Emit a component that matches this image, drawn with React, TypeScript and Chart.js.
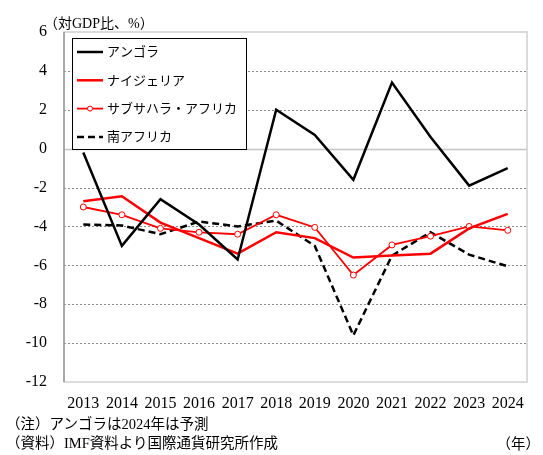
import React, { useEffect, useRef } from "react";
import { Chart, registerables } from "chart.js";

Chart.register(...registerables);

const years = ["2013", "2014", "2015", "2016", "2017", "2018", "2019", "2020", "2021", "2022", "2023", "2024"];
const angola = [-0.2, -5.0, -2.6, -3.9, -5.7, 2.0, 0.7, -1.6, 3.4, 0.6, -1.9, -1.0];
const nigeria = [-2.7, -2.45, -3.8, -4.6, -5.4, -4.3, -4.6, -5.6, -5.5, -5.4, -4.1, -3.35];
const subSahara = [-3.0, -3.4, -4.1, -4.3, -4.4, -3.4, -4.05, -6.5, -4.95, -4.5, -4.0, -4.2];
const southAfrica = [-3.9, -3.95, -4.4, -3.75, -4.0, -3.7, -5.0, -9.6, -5.5, -4.3, -5.45, -6.05];
const seriesNames = ["アンゴラ", "ナイジェリア", "サブサハラ・アフリカ", "南アフリカ"];
const yMin = -12;
const yMax = 6;
const yStep = 2;

const FONT = '"Liberation Serif", "Noto Sans CJK JP", serif';

const gridPlugin = {
  id: "customGrid",
  beforeDatasetsDraw(chart: any) {
    const { ctx, chartArea } = chart;
    const y = chart.scales.y;
    ctx.save();
    for (let v = yMin + yStep; v < yMax; v += yStep) {
      const py = Math.round(y.getPixelForValue(v)) + 0.5;
      ctx.beginPath();
      if (v === 0) {
        ctx.setLineDash([]);
        ctx.strokeStyle = "#c4c4c4";
        ctx.lineWidth = 1.5;
      } else {
        ctx.setLineDash([2, 2]);
        ctx.strokeStyle = "#8a8a8a";
        ctx.lineWidth = 1;
      }
      ctx.moveTo(chartArea.left, py);
      ctx.lineTo(chartArea.right, py);
      ctx.stroke();
    }
    ctx.setLineDash([]);
    ctx.strokeStyle = "#d0d0d0";
    ctx.lineWidth = 1.5;
    ctx.strokeRect(chartArea.left, chartArea.top, chartArea.right - chartArea.left, chartArea.bottom - chartArea.top);
    ctx.strokeStyle = "#999999";
    ctx.beginPath();
    ctx.moveTo(chartArea.left, chartArea.top);
    ctx.lineTo(chartArea.left, chartArea.bottom);
    ctx.stroke();
    ctx.restore();
  },
};

const legendPlugin = {
  id: "boxLegend",
  afterDraw(chart: any) {
    const { ctx, chartArea } = chart;
    const x0 = chartArea.left + 8;
    const y0 = chartArea.top + 6;
    const w = 174;
    const h = 111;
    ctx.save();
    ctx.fillStyle = "#ffffff";
    ctx.fillRect(x0, y0, w, h);
    ctx.strokeStyle = "#000000";
    ctx.lineWidth = 1;
    ctx.strokeRect(x0 + 0.5, y0 + 0.5, w, h);
    chart.data.datasets.forEach((ds: any, i: number) => {
      const cy = y0 + 14 + i * 28.3;
      ctx.beginPath();
      ctx.strokeStyle = ds.borderColor;
      ctx.lineWidth = ds.borderWidth;
      ctx.setLineDash(ds.borderDash || []);
      ctx.moveTo(x0 + 5, cy);
      ctx.lineTo(x0 + 31, cy);
      ctx.stroke();
      ctx.setLineDash([]);
      if (ds.pointRadius > 0) {
        ctx.beginPath();
        ctx.fillStyle = "#ffffff";
        ctx.lineWidth = 1;
        ctx.arc(x0 + 18, cy, 2.5, 0, Math.PI * 2);
        ctx.fill();
        ctx.stroke();
      }
      ctx.fillStyle = "#000000";
      ctx.font = `13px ${FONT}`;
      ctx.textBaseline = "middle";
      ctx.textAlign = "left";
      ctx.fillText(ds.label, x0 + 35, cy + 1);
    });
    ctx.restore();
  },
};

export default function App() {
  const ref = useRef<HTMLCanvasElement | null>(null);

  useEffect(() => {
    if (!ref.current) return;
    const chart = new Chart(ref.current, {
      type: "line",
      data: {
        labels: years,
        datasets: [
          {
            label: seriesNames[0],
            data: angola,
            borderColor: "#000000",
            borderWidth: 2.5,
            pointRadius: 0,
            tension: 0,
          },
          {
            label: seriesNames[1],
            data: nigeria,
            borderColor: "#ff0000",
            borderWidth: 2.5,
            pointRadius: 0,
            tension: 0,
          },
          {
            label: seriesNames[2],
            data: subSahara,
            borderColor: "#ff0000",
            borderWidth: 1.8,
            pointRadius: 3,
            pointBackgroundColor: "#ffffff",
            pointBorderColor: "#ff0000",
            pointBorderWidth: 1,
            tension: 0,
          },
          {
            label: seriesNames[3],
            data: southAfrica,
            borderColor: "#000000",
            borderWidth: 2.5,
            borderDash: [7, 4],
            pointRadius: 0,
            tension: 0,
          },
        ],
      },
      options: {
        responsive: false,
        animation: false,
        layout: { padding: { top: 32, right: 16, left: 0, bottom: 0 } },
        plugins: {
          legend: { display: false },
          tooltip: { enabled: false },
        },
        scales: {
          x: {
            offset: true,
            grid: { display: false, drawTicks: false },
            border: { display: false },
            ticks: {
              color: "#000000",
              font: { family: FONT, size: 16 },
              padding: 12,
              maxRotation: 0,
              autoSkip: false,
            },
            afterFit(scale: any) {
              scale.height = 73;
            },
          },
          y: {
            min: yMin,
            max: yMax,
            grid: { display: false, drawTicks: false },
            border: { display: false },
            ticks: {
              stepSize: yStep,
              color: "#000000",
              font: { family: FONT, size: 16 },
              padding: 17,
            },
            afterFit(scale: any) {
              scale.width = 64;
            },
          },
        },
      },
      plugins: [gridPlugin, legendPlugin],
    });
    return () => chart.destroy();
  }, []);

  const textStyle: React.CSSProperties = {
    position: "absolute",
    fontFamily: FONT,
    fontSize: "14.5px",
    lineHeight: "16px",
    color: "#000",
    whiteSpace: "nowrap",
  };

  return (
    <div style={{ position: "absolute", left: 0, top: 0, width: 543, height: 455, background: "#fff" }}>
      <canvas ref={ref} width={543} height={455} style={{ position: "absolute", left: 0, top: 0 }} />
      <div style={{ ...textStyle, left: 44, top: 16, fontSize: "14px" }}>（対GDP比、%）</div>
      <div style={{ ...textStyle, left: 6, top: 416 }}>（注）アンゴラは2024年は予測</div>
      <div style={{ ...textStyle, left: 6, top: 435 }}>（資料）IMF資料より国際通貨研究所作成</div>
      <div style={{ ...textStyle, right: 3, top: 436 }}>（年）</div>
    </div>
  );
}
